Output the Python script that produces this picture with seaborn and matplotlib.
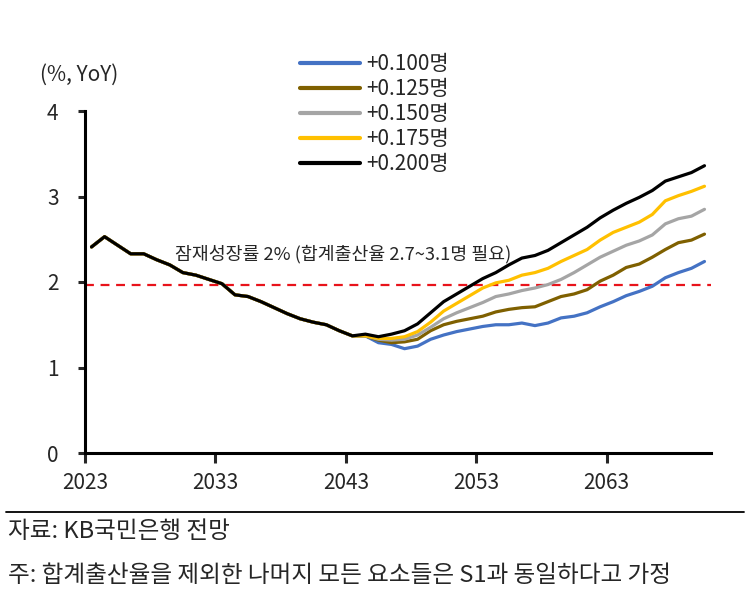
import numpy as np
import pandas as pd
import matplotlib
matplotlib.use("Agg")
import matplotlib.pyplot as plt
from matplotlib.lines import Line2D
import seaborn as sns

# years shown on the category axis
years = list(range(2023, 2071))

# all scenarios share the same path up to 2043
shared_2023_2043 = [2.41, 2.53, 2.43, 2.33, 2.33, 2.26, 2.20, 2.11, 2.08, 2.03, 1.98,
                    1.85, 1.83, 1.77, 1.70, 1.63, 1.57, 1.53, 1.50, 1.43, 1.37]

# 2044-2070 per scenario
tfr_0100 = [1.37, 1.29, 1.27, 1.22, 1.25, 1.33, 1.38, 1.42, 1.45, 1.48, 1.50, 1.50, 1.52, 1.49,
            1.52, 1.58, 1.60, 1.64, 1.71, 1.77, 1.84, 1.89, 1.95, 2.05, 2.11, 2.16, 2.24]
tfr_0125 = [1.37, 1.32, 1.29, 1.30, 1.33, 1.43, 1.50, 1.54, 1.57, 1.60, 1.65, 1.68, 1.70, 1.71,
            1.77, 1.83, 1.86, 1.91, 2.01, 2.08, 2.17, 2.21, 2.29, 2.38, 2.46, 2.49, 2.56]
tfr_0150 = [1.37, 1.33, 1.32, 1.33, 1.38, 1.47, 1.57, 1.64, 1.70, 1.76, 1.83, 1.86, 1.90, 1.93,
            1.97, 2.03, 2.11, 2.20, 2.29, 2.36, 2.43, 2.48, 2.55, 2.68, 2.74, 2.77, 2.85]
tfr_0175 = [1.37, 1.34, 1.34, 1.36, 1.42, 1.53, 1.66, 1.75, 1.84, 1.93, 1.99, 2.02, 2.08, 2.11,
            2.16, 2.24, 2.31, 2.38, 2.49, 2.58, 2.64, 2.70, 2.79, 2.95, 3.01, 3.06, 3.12]
tfr_0200 = [1.39, 1.36, 1.39, 1.43, 1.51, 1.64, 1.77, 1.86, 1.95, 2.04, 2.11, 2.20, 2.28, 2.31,
            2.37, 2.46, 2.55, 2.64, 2.75, 2.84, 2.92, 2.99, 3.07, 3.18, 3.23, 3.28, 3.36]

series_labels = ["+0.100명", "+0.125명", "+0.150명", "+0.175명", "+0.200명"]
series_colors = ["#4472C4", "#7F6000", "#A5A5A5", "#FFC000", "#000000"]
potential_growth = 1.97
xtick_labels = ["2023", "2033", "2043", "2053", "2063"]

frames = []
for label, tail in zip(series_labels, [tfr_0100, tfr_0125, tfr_0150, tfr_0175, tfr_0200]):
    frames.append(pd.DataFrame({"year": years, "value": shared_2023_2043 + tail, "series": label}))
df = pd.concat(frames, ignore_index=True)

sns.set_style("white")
plt.rcParams["font.family"] = ["Noto Sans CJK KR", "DejaVu Sans"]

fig = plt.figure(figsize=(7.48, 5.94), dpi=100)
ax = fig.add_axes([85 / 748, 1 - 453 / 594, 626 / 748, 342 / 594])

sns.lineplot(data=df, x="year", y="value", hue="series", hue_order=series_labels,
             palette=dict(zip(series_labels, series_colors)), linewidth=2.3,
             errorbar=None, ax=ax)

ax.axhline(potential_growth, color="#E8131B", linewidth=1.6, linestyle=(0, (4, 3)), zorder=1)

ax.set_xlim(2022.5, 2070.5)
ax.set_ylim(0, 4)
ax.set_xticks([2022.5, 2032.5, 2042.5, 2052.5, 2062.5])
ax.set_xticklabels(xtick_labels)
ax.set_yticks([0, 1, 2, 3, 4])
ax.set_xlabel("")
ax.set_ylabel("")
for side in ["top", "right"]:
    ax.spines[side].set_visible(False)
for side in ["left", "bottom"]:
    ax.spines[side].set_linewidth(2.2)
    ax.spines[side].set_color("black")
ax.tick_params(axis="y", length=5, width=2.2, pad=14, labelsize=15, direction="out", left=True)
ax.tick_params(axis="x", length=7, width=2.2, pad=7, labelsize=15, direction="out", bottom=True)

ax.text((175 - 85) / 626, (453 - 254) / 342, "잠재성장률 2% (합계출산율 2.7~3.1명 필요)",
        transform=ax.transAxes, fontsize=13.2, va="center", ha="left")

sns.move_legend(ax, "upper left", bbox_to_anchor=(300 / 748, 1 - 53 / 594),
                bbox_transform=fig.transFigure, frameon=False, title=None,
                fontsize=15, handlelength=2.9, handletextpad=0.3, labelspacing=0.15,
                borderpad=0, borderaxespad=0)
for h in ax.get_legend().get_lines():
    h.set_linewidth(3.0)

fig.text(40 / 748, 1 - 75 / 594, "(%, YoY)", fontsize=15, va="center", ha="left")

fig.add_artist(Line2D([6 / 748, 744 / 748], [1 - 512 / 594, 1 - 512 / 594],
                      transform=fig.transFigure, color="black", linewidth=1.3))
fig.text(8 / 748, 1 - 532 / 594, "자료: KB국민은행 전망", fontsize=17, va="center", ha="left")
fig.text(8 / 748, 1 - 575 / 594, "주: 합계출산율을 제외한 나머지 모든 요소들은 S1과 동일하다고 가정",
         fontsize=17, va="center", ha="left")

fig.savefig("out.png", dpi=100)
